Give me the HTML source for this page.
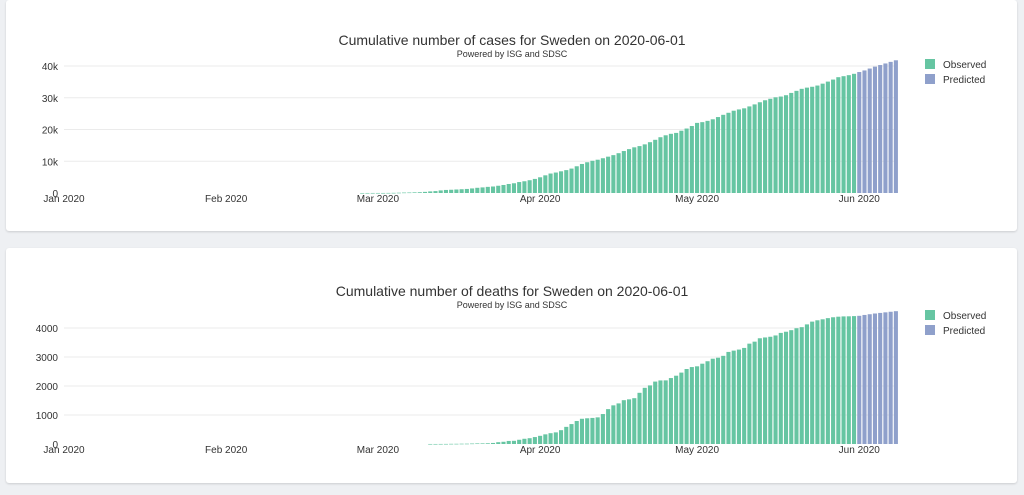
<!DOCTYPE html>
<html><head><meta charset="utf-8">
<style>
body{margin:0;background:#eef0f3;width:1024px;height:495px;overflow:hidden;font-family:"Liberation Sans",sans-serif}
.card{position:absolute;left:6px;width:1011px;background:#fff;border-radius:3px;box-shadow:0 1px 2px rgba(0,0,0,0.15)}
svg{position:absolute;left:0;top:0}
</style></head><body>
<div class="card" style="top:0;height:231px"></div>
<div class="card" style="top:248px;height:235px"></div>
<svg id="s" width="1024" height="495"></svg>
<script>
// Observed cumulative cases, daily from 2020-02-27
const casesObs=[7,12,13,14,15,30,52,94,137,161,203,248,355,500,599,814,961,1022,1103,1190,1279,1439,1639,1763,1934,2046,2286,2526,2840,3069,3447,3700,4028,4435,4947,5568,6131,6443,6830,7206,7693,8419,9141,9685,10151,10483,10948,11445,11927,12540,13216,13822,14385,14777,15322,16004,16755,17567,18177,18640,18926,19621,20302,21092,22082,22317,22721,23216,23918,24623,25265,25921,26322,26670,27272,27909,28582,29207,29677,30143,30377,30799,31523,32172,32809,33188,33459,33843,34440,35088,35727,36476,36792,37113,37542];
const casesStart="2020-02-27";
// Predicted cumulative cases, daily from 2020-06-01
const casesPred=[38100,38600,39200,39800,40300,40800,41300,41800];
// Observed cumulative deaths, daily from 2020-03-11
const deathsObs=[1,1,2,3,6,7,10,11,16,20,21,25,36,62,77,105,110,146,180,200,239,282,333,373,401,477,591,687,793,870,887,899,919,1033,1203,1333,1400,1511,1540,1580,1765,1937,2021,2152,2192,2194,2274,2355,2462,2586,2653,2679,2769,2854,2941,2975,3040,3175,3220,3256,3313,3460,3529,3646,3674,3698,3743,3831,3871,3925,3992,4029,4125,4220,4266,4300,4340,4370,4390,4400,4403,4410];
const deathsStart="2020-03-11";
const deathsPred=[4420,4450,4475,4500,4520,4540,4560,4580];
const predStart="2020-06-01";
const xTicks=["2020-01-01","2020-02-01","2020-03-01","2020-04-01","2020-05-01","2020-06-01"];
const xTickLabels=["Jan 2020","Feb 2020","Mar 2020","Apr 2020","May 2020","Jun 2020"];
const casesTicks=[0,10000,20000,30000,40000];
const casesTickLabels=["0","10k","20k","30k","40k"];
const deathsTicks=[0,1000,2000,3000,4000];
const deathsTickLabels=["0","1000","2000","3000","4000"];

const NS="http://www.w3.org/2000/svg";
const svg=document.getElementById('s');
const DAY=86400000, T0=Date.parse("2020-01-01");
function xs(d){return 64+(d-T0)/DAY*5.232;}
function el(t,a,p){const e=document.createElementNS(NS,t);for(const k in a)e.setAttribute(k,a[k]);(p||svg).appendChild(e);return e;}
function chart(cfg){
  const g=el('g',{});
  
  
  const ys=v=>cfg.y0-v*cfg.k;
  cfg.ticks.forEach((v,i)=>{
    if(i>0){const l=el('line',{x1:64,x2:895,y1:ys(v),y2:ys(v),stroke:'#ebebeb','stroke-width':1},g);
      }
    const t=el('text',{x:58,y:ys(v)+4,'text-anchor':'end','font-size':10,fill:'#333'},g);
    t.textContent=cfg.tickLabels[i];
    
  });
  xTicks.forEach((d,i)=>{
    const t=el('text',{x:xs(Date.parse(d)),y:cfg.y0+9,'text-anchor':'middle','font-size':10,fill:'#333'},g);
    t.textContent=xTickLabels[i];
    
  });
  const bw=4.1;
  function bars(arr,start,col,nm){
    const s=Date.parse(start);
    arr.forEach((v,i)=>{
      const x=xs(s+i*DAY);
      const r=el('rect',{x:x-bw/2,y:ys(v),width:bw,height:Math.max(v*cfg.k,0.6),fill:col},g);
      
    });
  }
  bars(cfg.obs,cfg.obsStart,'#66c5a2','observed-bar');
  bars(cfg.pred,predStart,'#8fa0cb','predicted-bar');
  const tt=el('text',{x:512,y:cfg.ty,'text-anchor':'middle','font-size':14,fill:'#333'},g);
  tt.textContent=cfg.title;
  
  const st=el('text',{x:512,y:cfg.ty+12,'text-anchor':'middle','font-size':9,fill:'#333'},g);
  st.textContent="Powered by ISG and SDSC";
  
  [['Observed','#66c5a2'],['Predicted','#8fa0cb']].forEach((e,i)=>{
    const r=el('rect',{x:925,y:cfg.ly+i*15-5,width:10,height:10,fill:e[1]},g);
    
    const t=el('text',{x:943,y:cfg.ly+i*15+4,'font-size':10,fill:'#333'},g);
    t.textContent=e[0];
    
  });
}
chart({name:'cases-chart',y0:193,k:31.75/10000,ticks:casesTicks,tickLabels:casesTickLabels,obs:casesObs,obsStart:casesStart,pred:casesPred,title:"Cumulative number of cases for Sweden on 2020-06-01",ty:45,ly:64});
chart({name:'deaths-chart',y0:444,k:29/1000,ticks:deathsTicks,tickLabels:deathsTickLabels,obs:deathsObs,obsStart:deathsStart,pred:deathsPred,title:"Cumulative number of deaths for Sweden on 2020-06-01",ty:296,ly:315});
</script>
</body></html>
